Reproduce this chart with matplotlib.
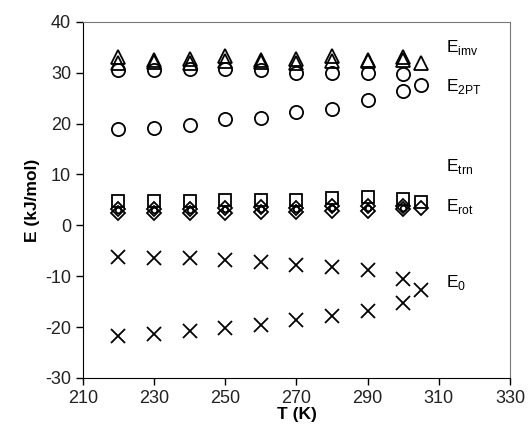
import matplotlib.pyplot as plt

plt.rcParams['font.family'] = ['Liberation Sans', 'DejaVu Sans']
plt.rcParams['axes.unicode_minus'] = False

# temperatures
T = [220, 230, 240, 250, 260, 270, 280, 290, 300]
T_extra = [305]

# E_imv (triangles)
imv_a = [33.0, 32.6, 32.8, 33.3, 32.5, 32.7, 33.2, 32.6, 33.0]
imv_b = [32.0, 32.2, 32.0, 32.3, 32.2, 32.0, 32.3, 32.3, 32.5]
imv_extra = [32.0]

# E_2PT (circles)
tpt_a = [30.5, 30.5, 30.7, 30.7, 30.5, 30.0, 30.0, 30.0, 29.7]
tpt_b = [19.0, 19.1, 19.8, 21.0, 21.2, 22.2, 22.8, 24.7, 26.5]
tpt_extra = [27.5]

# E_trn / E_rot (squares, diamonds, small circles)
sq = [4.8, 4.8, 4.8, 5.0, 5.0, 5.0, 5.3, 5.6, 5.2]
sq_extra = [4.6]
dia_a = [2.4, 2.4, 2.4, 2.5, 2.6, 2.6, 2.8, 2.8, 3.2]
dia_b = [3.3, 3.2, 3.2, 3.5, 3.6, 3.5, 3.8, 3.8, 3.8]
dia_extra = [3.4]
small = [3.0, 3.0, 3.0, 3.2, 3.2, 3.2, 3.4, 3.4, 3.5]

# E_0 (crosses)
e0_a = [-6.2, -6.5, -6.5, -6.8, -7.2, -7.7, -8.2, -8.8, -10.5]
e0_b = [-21.8, -21.3, -20.7, -20.2, -19.5, -18.7, -17.8, -16.8, -15.2]
e0_extra = [-12.8]

labels = ['E$_{\\mathregular{imv}}$', 'E$_{\\mathregular{2PT}}$', 'E$_{\\mathregular{trn}}$',
          'E$_{\\mathregular{rot}}$', 'E$_{\\mathregular{0}}$']
label_y = [35.0, 27.2, 11.5, 3.8, -11.3]

fig = plt.figure(figsize=(5.28, 4.29), dpi=100)
ax = fig.add_axes([0.157, 0.119, 0.809, 0.830])

kw = dict(linestyle='none', markerfacecolor='none', markeredgecolor='black',
          markeredgewidth=1.3, color='black')
ax.plot(T, tpt_a, marker='o', markersize=9.5, **kw)
ax.plot(T, tpt_b, marker='o', markersize=9.5, **kw)
ax.plot(T_extra, tpt_extra, marker='o', markersize=9.5, **kw)
ax.plot(T, imv_a, marker='^', markersize=10, **kw)
ax.plot(T, imv_b, marker='^', markersize=10, **kw)
ax.plot(T_extra, imv_extra, marker='^', markersize=10, **kw)

ax.plot(T, sq, marker='s', markersize=8.5, **kw)
ax.plot(T_extra, sq_extra, marker='s', markersize=8.5, **kw)
ax.plot(T, dia_a, marker='D', markersize=7, **kw)
ax.plot(T, dia_b, marker='D', markersize=7, **kw)
ax.plot(T_extra, dia_extra, marker='D', markersize=7, **kw)
ax.plot(T, small, marker='o', markersize=4, **kw)

ax.plot(T, e0_a, marker='x', markersize=10, **kw)
ax.plot(T, e0_b, marker='x', markersize=10, **kw)
ax.plot(T_extra, e0_extra, marker='x', markersize=10, **kw)

for lab, yv in zip(labels, label_y):
    ax.text(312, yv, lab, fontsize=12.5, va='center', ha='left')

ax.set_xlim(210, 330)
ax.set_ylim(-30, 40)
ax.set_xticks(range(210, 331, 20))
ax.set_yticks(range(-30, 41, 10))
ax.tick_params(labelsize=13, direction='out', length=5, width=1, top=False, right=False,
               labelcolor='#222222')
ax.spines['top'].set_color('#777777')
ax.spines['right'].set_color('#777777')
ax.set_xlabel('T (K)', fontsize=12.5, fontweight='bold', labelpad=0)
ax.set_ylabel('E (kJ/mol)', fontsize=12.5, fontweight='bold', labelpad=4)

fig.savefig('out.png', dpi=100)
